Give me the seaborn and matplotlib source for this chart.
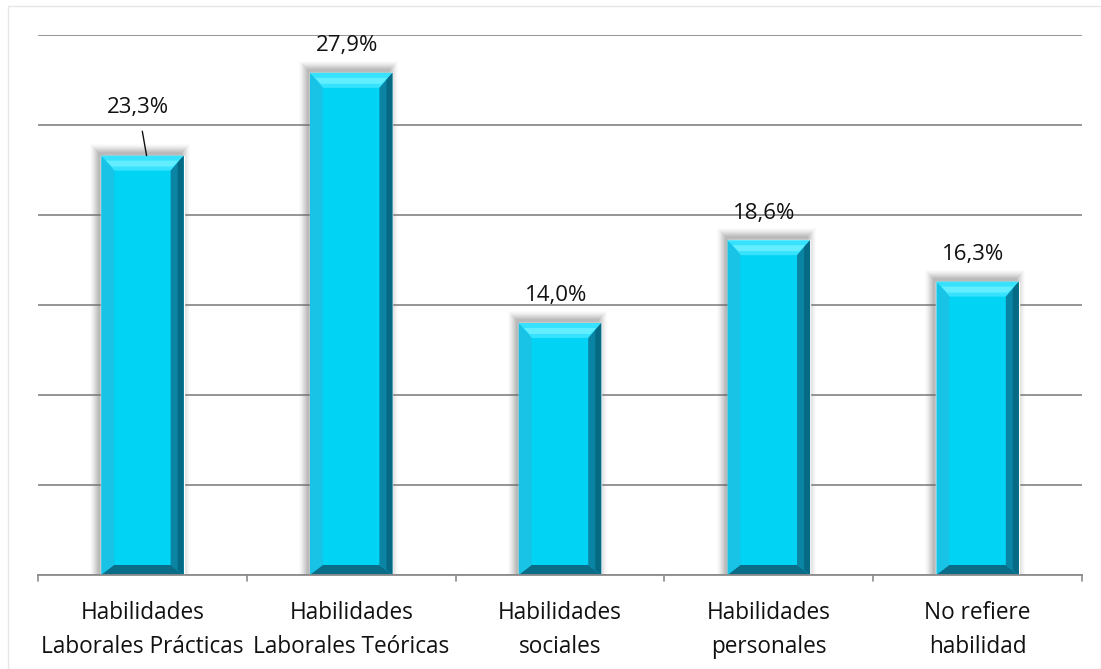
import matplotlib
matplotlib.use("Agg")
import matplotlib.pyplot as plt
from matplotlib.patches import Polygon, Rectangle
import seaborn as sns
import pandas as pd

categorias = [
    "Habilidades\nLaborales Prácticas",
    "Habilidades\nLaborales Teóricas",
    "Habilidades\nsociales",
    "Habilidades\npersonales",
    "No refiere\nhabilidad",
]
porcentajes = [23.3, 27.9, 14.0, 18.6, 16.3]
etiquetas = ["23,3%", "27,9%", "14,0%", "18,6%", "16,3%"]

sns.set_theme(style="white")
plt.rcParams["font.family"] = ["Open Sans", "DejaVu Sans"]

W, H = 1101, 669
fig = plt.figure(figsize=(W / 100, H / 100), dpi=100)
ax = fig.add_axes([38 / W, 94 / H, 1044 / W, 540 / H])

df = pd.DataFrame({"cat": categorias, "val": porcentajes})
sns.barplot(data=df, x="cat", y="val", color="#00d3f3", width=0.395,
            saturation=1, ax=ax, zorder=3)

ax.set_ylim(0, 30)
ax.set_xlim(-0.5, 4.5)
ax.set_yticks(range(0, 31, 5))
ax.set_yticklabels([])
ax.yaxis.grid(True, color="#8c8c8c", linewidth=1.3, zorder=0)
ax.tick_params(axis="y", length=0)
ax.set_xlabel("")
ax.set_ylabel("")
for s in ["top", "right", "left"]:
    ax.spines[s].set_visible(False)
ax.spines["bottom"].set_color("#8c8c8c")
ax.spines["bottom"].set_linewidth(1.3)
ax.spines["bottom"].set_zorder(5)

ax.set_xticks(range(len(categorias)))
ax.set_xticklabels(categorias, fontsize=16.3, color="#111111", linespacing=1.55)
ax.tick_params(axis="x", length=0, pad=19)
# category boundary ticks
for b in [i - 0.5 for i in range(len(categorias) + 1)]:
    ax.plot([b, b], [0, -0.33], color="#8c8c8c", lw=1.2, clip_on=False, zorder=5)

# pixel -> data scale
px = 5.0 / 1044
py = 30.0 / 540
bx = 13 * px
bt = 15 * py
bb = 10 * py

for patch in list(ax.patches):
    x0 = patch.get_x()
    w = patch.get_width()
    h = patch.get_height()
    x1 = x0 + w
    # soft shadow, up and to the left
    for k, a in zip(range(9, 0, -1), [0.025, 0.035, 0.045, 0.055, 0.065, 0.075, 0.085, 0.095, 0.11]):
        ax.add_patch(Rectangle((x0 - (k + 2) * px, 0), w + (2 * k - 1) * px,
                               h + (k + 3) * py, facecolor="#6e6e6e",
                               edgecolor="none", alpha=a, zorder=2))
    ix0, ix1 = x0 + bx, x1 - bx
    iy0, iy1 = bb, h - bt
    # top bevel
    ax.add_patch(Polygon([(x0, h), (x1, h), (ix1, iy1), (ix0, iy1)],
                         facecolor="#36e2fd", edgecolor="none", zorder=4))
    # light strip within the top bevel
    ax.add_patch(Polygon([(x0 + 5 * px, h - 5 * py), (x1 - 5 * px, h - 5 * py),
                          (x1 - 11 * px, h - 11 * py), (x0 + 11 * px, h - 11 * py)],
                         facecolor="#62eeff", edgecolor="none", zorder=4))
    # left bevel
    ax.add_patch(Polygon([(x0, 0), (x0, h), (ix0, iy1), (ix0, iy0)],
                         facecolor="#18c3e6", edgecolor="none", zorder=4))
    # right bevel (two tones)
    ax.add_patch(Polygon([(x1, 0), (x1, h), (ix1, iy1), (ix1, iy0)],
                         facecolor="#0a84a2", edgecolor="none", zorder=4))
    ax.add_patch(Polygon([(x1, 0), (x1, h), (x1 - 6 * px, h - 7 * py),
                          (x1 - 6 * px, 5 * py)],
                         facecolor="#066a84", edgecolor="none", zorder=4))
    # bottom bevel
    ax.add_patch(Polygon([(x0, 0), (x1, 0), (ix1, iy0), (ix0, iy0)],
                         facecolor="#0a6c87", edgecolor="none", zorder=4))

# value labels
for i, (v, t) in enumerate(zip(porcentajes, etiquetas)):
    if i == 0:
        ax.annotate(t, xy=(i + 0.02, v), xytext=(i - 0.02, v + 2.65),
                    ha="center", va="center", fontsize=16, color="#111111",
                    arrowprops=dict(arrowstyle="-", color="#111111", lw=1,
                                    shrinkA=7, shrinkB=0), zorder=6)
    else:
        ax.text(i - 0.02, v + 1.5, t, ha="center", va="center",
                fontsize=16, color="#111111", zorder=6)

# outer frame
fig.patches.append(Rectangle((8 / W, 0), (W - 8) / W, (H - 6) / H,
                             transform=fig.transFigure, facecolor="none",
                             edgecolor="#e6e6e6", lw=1))

fig.savefig("out.png", dpi=100)
